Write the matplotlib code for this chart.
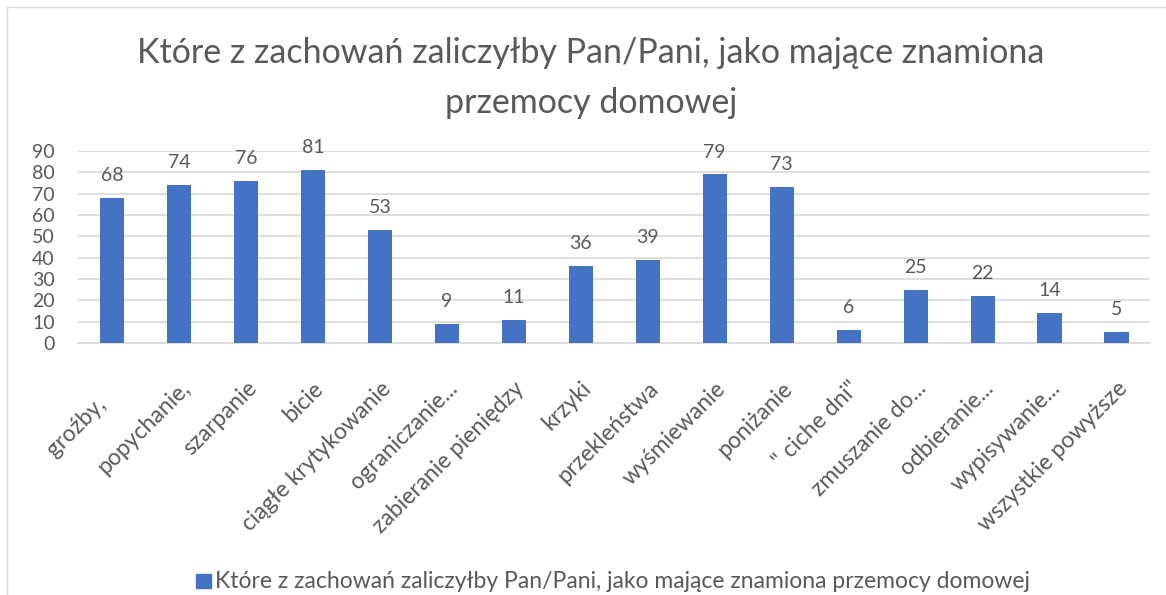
import matplotlib.pyplot as plt
from matplotlib.patches import Rectangle
from matplotlib.transforms import ScaledTranslation

plt.rcParams['font.family'] = ['Lato', 'DejaVu Sans']

# Dane
categories = ['groźby,\u00a0\u00a0\u00a0\u00a0', 'popychanie,', 'szarpanie', 'bicie', 'ciągłe krytykowanie',
              'ograniczanie...', 'zabieranie pieniędzy', 'krzyki', 'przekleństwa',
              'wyśmiewanie', 'poniżanie', '" ciche dni"', 'zmuszanie do...',
              'odbieranie...', 'wypisywanie...', 'wszystkie powyższe']
values = [68, 74, 76, 81, 53, 9, 11, 36, 39, 79, 73, 6, 25, 22, 14, 5]
title_lines = ['Które z zachowań zaliczyłby Pan/Pani, jako mające znamiona', 'przemocy domowej']
series_name = 'Które z zachowań zaliczyłby Pan/Pani, jako mające znamiona przemocy domowej'

text_color = '#595959'
bar_color = '#4472C4'
W, H = 1166, 595

fig = plt.figure(figsize=(W / 100, H / 100), dpi=100)
ax = fig.add_axes([78.5 / W, 1 - 343 / H, (1150 - 78.5) / W, 192 / H])

x = range(len(categories))
ax.bar(x, values, width=0.36, color=bar_color, zorder=3)
for xi, v in zip(x, values):
    ax.annotate(str(v), (xi, v), xytext=(0, 10), textcoords='offset points',
                ha='center', va='bottom', fontsize=14, color=text_color)

ax.set_xlim(-0.5, len(categories) - 0.5)
ax.set_ylim(0, 90)
ax.set_yticks(range(0, 91, 10))
ax.yaxis.grid(True, color='#D9D9D9', linewidth=1.2, zorder=0)
ax.set_xticks(list(x))
ax.set_xticklabels(categories, rotation=45, ha='right', rotation_mode='anchor',
                   fontsize=16.5, color=text_color)
shift = ScaledTranslation(4 / 100, 0, fig.dpi_scale_trans)
for lbl in ax.get_xticklabels():
    lbl.set_transform(lbl.get_transform() + shift)
ax.tick_params(axis='y', labelsize=14, labelcolor=text_color, length=0, pad=17)
ax.tick_params(axis='x', length=0, pad=25)
for s in ['top', 'right', 'left']:
    ax.spines[s].set_visible(False)
ax.spines['bottom'].set_color('#D9D9D9')
ax.spines['bottom'].set_linewidth(1.2)

# tytuł
fig.text(591 / W, 1 - 63 / H, title_lines[0], ha='center', va='baseline',
         fontsize=24.5, color=text_color)
fig.text(591 / W, 1 - 113 / H, title_lines[1], ha='center', va='baseline',
         fontsize=24.5, color=text_color)

# legenda
fig.patches.append(Rectangle((196 / W, 1 - 588 / H), 15 / W, 14 / H,
                             transform=fig.transFigure, color=bar_color))
fig.text(215 / W, 1 - 588 / H, series_name, ha='left', va='baseline',
         fontsize=16.5, color=text_color)

# ramka wykresu
fig.patches.append(Rectangle((7 / W, -0.1), 1.2, 1 - 7 / H + 0.1, transform=fig.transFigure,
                             fill=False, edgecolor='#D9D9D9', linewidth=1))

fig.savefig('out.png', dpi=100)
